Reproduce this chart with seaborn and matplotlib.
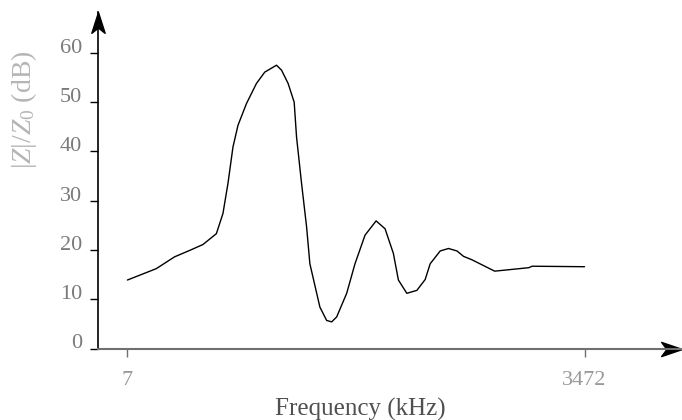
import numpy as np
import pandas as pd
import matplotlib
matplotlib.use('Agg')
import matplotlib.pyplot as plt
import seaborn as sns
from matplotlib.path import Path

# Impedance curve
freq_khz = [7, 225, 364, 478, 579, 681, 731, 769, 807, 845, 909, 985, 1048, 1137,
            1175, 1225, 1271, 1289, 1327, 1365, 1390, 1466, 1517, 1555, 1593, 1669,
            1732, 1808, 1892, 1960, 2023, 2061, 2125, 2201, 2264, 2302, 2378, 2441,
            2505, 2555, 2619, 2791, 3049, 3075, 3472]
z_db = [13.9, 16.2, 18.6, 19.9, 21.1, 23.3, 27.4, 33.5, 40.9, 45.3, 49.7, 53.8, 56.1, 57.5,
        56.5, 53.8, 50.0, 42.9, 33.5, 24.7, 17.2, 8.4, 5.7, 5.4, 6.4, 11.2,
        17.2, 23.0, 25.9, 24.3, 19.3, 13.9, 11.2, 11.8, 14.0, 17.2, 19.8, 20.3,
        19.8, 18.7, 18.0, 15.7, 16.4, 16.7, 16.6]
y_ticks = [0, 10, 20, 30, 40, 50, 60]
x_ticks = [7, 3472]

df = pd.DataFrame({'freq': freq_khz, 'z': z_db})

sns.set_style('white')
plt.rcParams['font.family'] = ['Liberation Serif', 'DejaVu Serif']
plt.rcParams['mathtext.fontset'] = 'custom'
plt.rcParams['mathtext.rm'] = 'Liberation Serif'
plt.rcParams['mathtext.it'] = 'Liberation Serif:italic'

fig = plt.figure(figsize=(6.82, 4.2), dpi=100)
ax = fig.add_axes([97.5 / 682, (420 - 348.5) / 420, (682 - 97.5) / 682, (348.5 - 12) / 420])

sns.lineplot(data=df, x='freq', y='z', ax=ax, color='black', linewidth=1.0)

ax.set_xlim(-220, 4211)
ax.set_ylim(0, 68.3)
ax.set_xticks(x_ticks)
ax.set_xticklabels([str(t) for t in x_ticks])
ax.set_yticks(y_ticks)
ax.set_yticklabels([str(t) for t in y_ticks])
ax.set_xlabel('')
ax.set_ylabel('')

for s in ['top', 'right']:
    ax.spines[s].set_visible(False)
ax.spines['left'].set_color('black')
ax.spines['left'].set_linewidth(1.2)
ax.spines['bottom'].set_color('#707070')
ax.spines['bottom'].set_linewidth(1.5)

ax.tick_params(axis='y', direction='out', length=6, width=1.0, color='black',
               pad=5, labelsize=16, labelcolor='#7a7a7a', left=True)
ax.tick_params(axis='x', direction='out', length=6, width=1.0, color='#707070',
               pad=10, labelsize=16, labelcolor='#999999', bottom=True)
for lbl in ax.get_yticklabels():
    lbl.set_va('baseline')

# arrow heads at the axis ends
right_head = Path([(0, 0), (-1, 0.34), (-0.75, 0), (-1, -0.34), (0, 0)],
                  [Path.MOVETO, Path.LINETO, Path.LINETO, Path.LINETO, Path.CLOSEPOLY])
up_head = Path([(0, 0), (0.32, -1), (0, -0.75), (-0.32, -1), (0, 0)],
               [Path.MOVETO, Path.LINETO, Path.LINETO, Path.LINETO, Path.CLOSEPOLY])
ax.plot([1], [0], marker=right_head, markersize=30, color='black',
        transform=ax.transAxes, clip_on=False)
ax.plot([0], [1], marker=up_head, markersize=30, color='black',
        transform=ax.transAxes, clip_on=False)

fig.text(24 / 682, 1 - 110 / 420, r'$|Z|/Z_0$ (dB)', rotation=90, ha='center', va='center',
         fontsize=20, color='#b5b5b5')
fig.text(360 / 682, (420 - 416) / 420, 'Frequency (kHz)', ha='center', va='baseline',
         fontsize=18, color='#505050')

fig.savefig('out.png', dpi=100)
